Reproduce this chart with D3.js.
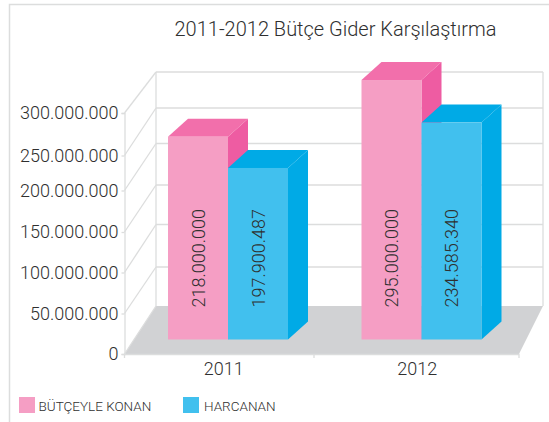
<!DOCTYPE html>
<html>
<head>
<meta charset="utf-8">
<script src="https://cdn.jsdelivr.net/npm/d3@7"></script>
<style>
  html, body { margin: 0; padding: 0; background: #fff; }
  svg { display: block; }
  text { font-family: Roboto, "Liberation Sans", sans-serif; font-weight: 300; fill: #2f2f2f; }
</style>
</head>
<body>
<svg id="chart"></svg>
<script>
const years = ['2011', '2012']
const seriesNames = ['BÜTÇEYLE KONAN', 'HARCANAN']

// the numbers printed on the bars
const konanLabels = [218000000, 295000000]
const harcananLabels = [197900487, 234585340]

// the picture's bars don't agree with their labels, so bar heights are read off the axis separately
const konanDrawn = [252500000, 323000000]
const harcananDrawn = [213500000, 270000000]

const tickValues = [0, 50000000, 100000000, 150000000, 200000000, 250000000, 300000000]

const width = 549
const height = 422

const colors = {
  front: ['#f59ec4', '#41c0ee'],
  top: ['#f26fab', '#00aae6'],
  side: ['#ee5ca2', '#00aae6'],
  floor: '#d1d2d4',
  grid: '#dcdddd'
}

const svg = d3.select('#chart').attr('width', width).attr('height', height)

// tick positions in the picture are a bit uneven, so the axes are piecewise
const yFront = d3.scaleLinear().domain(tickValues).range([354, 313.5, 272.5, 232, 190.5, 155.5, 113])
const yBack = d3.scaleLinear().domain(tickValues).range([306, 267, 224.5, 185, 143.5, 108, 72])
const yBar = d3.scaleLinear().domain([0, 300000000]).range([339.5, 98.5])

const x0 = d3.scaleBand().domain(years).range([131.5, 518.5])
const x1 = d3.scaleBand().domain(seriesNames).range([36.5, 156.5])

const dotFormat = d3.formatLocale({decimal: ',', thousands: '.', grouping: [3], currency: ['', '']}).format(',d')

const frontLeft = 124.5, frontRight = 519, backLeft = 156, backRight = 543

// outer frame
svg.append('path')
  .attr('d', 'M9.5,422V4.5H549')
  .attr('fill', 'none')
  .attr('stroke', '#dcdddd')
  .attr('stroke-width', 1.5)

// floor
svg.append('path')
  .attr('d', `M${frontLeft},354L${backLeft},306H${backRight}L${frontRight},354Z`)
  .attr('fill', colors.floor)

// back wall + side wall grid
const grid = svg.append('g')
  .attr('fill', 'none')
  .attr('stroke', colors.grid)
  .attr('stroke-width', 1.3)

grid.selectAll('line.back')
  .data(tickValues.slice(1))
  .join('line')
    .attr('class', 'back')
    .attr('x1', backLeft).attr('x2', backRight)
    .attr('y1', d => yBack(d)).attr('y2', d => yBack(d))

grid.selectAll('line.wall')
  .data(tickValues)
  .join('line')
    .attr('class', 'wall')
    .attr('x1', frontLeft).attr('x2', backLeft)
    .attr('y1', d => yFront(d)).attr('y2', d => yBack(d))

grid.append('line')
  .attr('x1', backLeft).attr('x2', backLeft)
  .attr('y1', yBack(300000000)).attr('y2', 306)
grid.append('line')
  .attr('x1', backRight).attr('x2', backRight)
  .attr('y1', yBack(300000000)).attr('y2', 306)

// y axis
const yAxis = svg.append('g')
  .attr('transform', `translate(${frontLeft},0)`)
  .call(d3.axisLeft(yFront).tickValues(tickValues).tickFormat(dotFormat).tickSize(3).tickPadding(3))
yAxis.selectAll('path, line').attr('stroke', colors.grid).attr('stroke-width', 1.3)
yAxis.selectAll('text').attr('font-size', 18).attr('fill', '#2f2f2f')
yAxis.attr('font-family', null)

// x axis line and ticks
svg.append('path')
  .attr('d', `M${frontLeft},358V354.5H${frontRight}V358M314,354.5V358`)
  .attr('fill', 'none')
  .attr('stroke', colors.grid)
  .attr('stroke-width', 1.3)

svg.selectAll('text.year')
  .data(years)
  .join('text')
    .attr('class', 'year')
    .attr('x', d => x0(d) + x0.bandwidth() / 2 - 4.5)
    .attr('y', 375)
    .attr('text-anchor', 'middle')
    .attr('font-size', 18)
    .text(d => d)

// bars, tall pink ones first so blue overlaps correctly
const bars = []
years.forEach((year, i) => {
  bars.push({year, name: seriesNames[0], s: 0, drawn: konanDrawn[i], label: konanLabels[i]})
  bars.push({year, name: seriesNames[1], s: 1, drawn: harcananDrawn[i], label: harcananLabels[i]})
})

const dx = 20, dy = 18

const bar = svg.selectAll('g.bar')
  .data(bars)
  .join('g')
    .attr('class', 'bar')

bar.each(function(d) {
  const g = d3.select(this)
  const left = x0(d.year) + x1(d.name)
  const right = left + x1.bandwidth()
  const top = yBar(d.drawn)
  const base = yBar(0)

  g.append('path')
    .attr('d', `M${right},${top}L${right + dx},${top - dy}V${base - dy}L${right},${base}Z`)
    .attr('fill', colors.side[d.s])
  g.append('path')
    .attr('d', `M${left},${top}L${left + dx},${top - dy}H${right + dx}L${right},${top}Z`)
    .attr('fill', colors.top[d.s])
  g.append('rect')
    .attr('x', left)
    .attr('y', top)
    .attr('width', x1.bandwidth())
    .attr('height', base - top)
    .attr('fill', colors.front[d.s])
  g.append('text')
    .attr('transform', `translate(${left + x1.bandwidth() / 2 + 6.5},307.5) rotate(-90)`)
    .attr('font-size', 18)
    .text(dotFormat(d.label))
})

// title
svg.append('text')
  .attr('x', 335.5)
  .attr('y', 36)
  .attr('text-anchor', 'middle')
  .attr('font-size', 20)
  .text('2011-2012 Bütçe Gider Karşılaştırma')

// legend
const legendX = [19, 183]
const legend = svg.selectAll('g.legend')
  .data(seriesNames)
  .join('g')
    .attr('class', 'legend')
    .attr('transform', (d, i) => `translate(${legendX[i]},397)`)

legend.append('rect')
  .attr('width', 16)
  .attr('height', 16)
  .attr('fill', (d, i) => colors.front[i])

legend.append('text')
  .attr('x', (d, i) => i === 0 ? 19.5 : 21)
  .attr('y', 14)
  .attr('font-size', 13.5)
  .text(d => d)
</script>
</body>
</html>
